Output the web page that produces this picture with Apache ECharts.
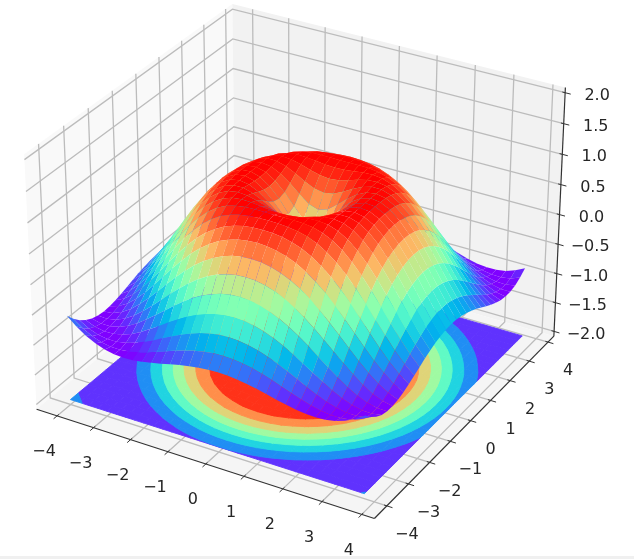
<!DOCTYPE html>
<html>
<head>
<meta charset="utf-8">
<style>html,body{margin:0;padding:0;background:#fff}#c{width:634px;height:559px;filter:blur(0.4px)}</style>
<script src="https://cdn.jsdelivr.net/npm/echarts@6/dist/echarts.min.js"></script>
</head>
<body>
<div id="c"></div>
<script>
// Grid coordinates of the surface
const xValues = [-4,-3.75,-3.5,-3.25,-3,-2.75,-2.5,-2.25,-2,-1.75,-1.5,-1.25,-1,-0.75,-0.5,-0.25,0,0.25,0.5,0.75,1,1.25,1.5,1.75,2,2.25,2.5,2.75,3,3.25,3.5,3.75];
const yValues = xValues.slice();
// Heights: row a, column b (b>=a) with a,b = grid steps from the centre (surface is symmetric)
const heightRows = [
[0,.247,.479,.682,.841,.949,.997,.984,.909,.778,.598,.382,.141,-.108,-.351,-.572,-.757],
[.346,.530,.711,.857,.957,.999,.981,.902,.769,.588,.372,.131,-.118,-.359,-.578,-.762],
[.650,.784,.899,.975,1,.969,.882,.742,.558,.339,.100,-.146,-.384,-.599,-.778],
[.873,.949,.994,.994,.945,.845,.696,.507,.288,.049,-.192,-.423,-.631,-.802],
[.988,.9995,.973,.902,.787,.629,.434,.215,-.021,-.256,-.478,-.675,-.832],
[.981,.928,.836,.705,.537,.339,.121,-.108,-.334,-.544,-.723,-.868],
[.853,.742,.598,.424,.225,.009,-.211,-.423,-.617,-.783,-.906],
[.619,.465,.288,.090,-.118,-.325,-.523,-.696,-.840,-.941],
[.308,.131,-.060,-.256,-.449,-.625,-.778,-.895,-.971],
[-.040,-.220,-.400,-.572,-.723,-.853,-.944,-.993],
[-.384,-.544,-.691,-.818,-.917,-.980,-1],
[-.680,-.802,-.899,-.966,-.998,-.990],
[-.891,-.957,-.995,-.996,-.959],
[-.993,-.998,-.970,-.904],
[-.973,-.914,-.825],
[-.832,-.718],
[-.586]
];
const contourLevels = [-1,-0.75,-0.5,-0.25,0,0.25,0.5,0.75,1];
const contourOffset = -2;
const xTicks = [-4,-3,-2,-1,0,1,2,3,4];
const yTicks = [-4,-3,-2,-1,0,1,2,3,4];
const zTicks = [-2,-1.5,-1,-0.5,0,0.5,1,1.5,2];
const xLim = [-4.5651,4.3151], yLim = [-4.5651,4.3151], zLim = [-2.0833,2.0833];

// View
const BOX = [1.19,1.19,0.903], DIST = 10, ELEV = 30*Math.PI/180, AZIM = -60*Math.PI/180;
const SX = 3253, SY = 3218, CX = 300, CY = 249;
const U = [-Math.sin(AZIM),Math.cos(AZIM),0];
const W = [Math.cos(ELEV)*Math.cos(AZIM),Math.cos(ELEV)*Math.sin(AZIM),Math.sin(ELEV)];
const V = [W[1]*U[2]-W[2]*U[1],W[2]*U[0]-W[0]*U[2],W[0]*U[1]-W[1]*U[0]];
function proj(x,y,z){
  const p=[(x-xLim[0])/(xLim[1]-xLim[0])*BOX[0]-BOX[0]/2,
           (y-yLim[0])/(yLim[1]-yLim[0])*BOX[1]-BOX[1]/2,
           (z-zLim[0])/(zLim[1]-zLim[0])*BOX[2]-BOX[2]/2];
  const dot=a=>a[0]*p[0]+a[1]*p[1]+a[2]*p[2];
  const d=DIST-dot(W);
  return [CX+SX*dot(U)/d, CY-SY*dot(V)/d, d];
}
const P=(x,y,z)=>proj(x,y,z).slice(0,2);
function height(i,j){
  const a=Math.abs(i-16),b=Math.abs(j-16),lo=Math.min(a,b),hi=Math.max(a,b);
  return heightRows[lo][hi-lo];
}
function rainbow(t){
  t=Math.max(0,Math.min(1,t));
  const c=v=>Math.round(Math.max(0,Math.min(1,v))*255);
  return `rgb(${c(Math.abs(2*t-.5))},${c(Math.sin(Math.PI*t))},${c(Math.cos(Math.PI*t/2))})`;
}
// Surface cells sorted far to near
const N=xValues.length;
let cells=[],zmin=Infinity,zmax=-Infinity;
for(let i=0;i<N-1;i++)for(let j=0;j<N-1;j++){
  const q=[[i,j],[i+1,j],[i+1,j+1],[i,j+1]];
  const m=q.reduce((s,c)=>s+height(c[0],c[1]),0)/4;
  const d=q.reduce((s,c)=>s+proj(xValues[c[0]],yValues[c[1]],height(c[0],c[1]))[2],0)/4;
  zmin=Math.min(zmin,m);zmax=Math.max(zmax,m);
  cells.push({i,j,m,d});
}
cells.sort((a,b)=>b.d-a.d);
// Filled contour pieces
function clip(poly,level,above){
  const out=[];
  for(let k=0;k<poly.length;k++){
    const A=poly[k],B=poly[(k+1)%poly.length];
    const ia=above?A[2]>=level:A[2]<=level, ib=above?B[2]>=level:B[2]<=level;
    if(ia)out.push(A);
    if(ia!==ib){const t=(level-A[2])/(B[2]-A[2]);out.push([A[0]+t*(B[0]-A[0]),A[1]+t*(B[1]-A[1]),level]);}
  }
  return out;
}
const pieces=[];
for(let b=0;b<contourLevels.length-1;b++){
  for(let i=0;i<N-1;i++)for(let j=0;j<N-1;j++){
    let poly=[[i,j],[i+1,j],[i+1,j+1],[i,j+1]].map(c=>[xValues[c[0]],yValues[c[1]],height(c[0],c[1])]);
    poly=clip(clip(poly,contourLevels[b],true),contourLevels[b+1],false);
    if(poly.length>2)pieces.push({b,pts:poly.map(p=>P(p[0],p[1],contourOffset))});
  }
}
// Frame
const frame=[];
const [x0,x1]=xLim,[y0,y1]=yLim,[z0,z1]=zLim;
function pane(pts,fill){frame.push({type:'polygon',shape:{points:pts.map(p=>P(...p))},style:{fill}});}
function line(pts,stroke,w){frame.push({type:'polyline',shape:{points:pts.map(p=>P(...p))},style:{fill:'none',stroke,lineWidth:w}});}
function label(p,dx,dy,text){const a=P(...p);frame.push({type:'text',style:{x:a[0]+dx,y:a[1]+dy,text,align:'center',verticalAlign:'middle',fontFamily:'DejaVu Sans',fontSize:16,fill:'#262626'}});}
pane([[x0,y0,z0],[x0,y1,z0],[x0,y1,z1],[x0,y0,z1]],'#f9f9f9');
pane([[x0,y1,z0],[x1,y1,z0],[x1,y1,z1],[x0,y1,z1]],'#f2f2f2');
pane([[x0,y0,z0],[x1,y0,z0],[x1,y1,z0],[x0,y1,z0]],'#f5f5f5');
const GRID='#bcbcbc',GW=1.3,AX='#333333';
const fmtTick=v=>(v<0?'\u2212':'')+Math.abs(v);
const fmtZ=v=>(v<0?'\u2212':'')+Math.abs(v).toFixed(1);
xTicks.forEach(v=>line([[v,y0,z0],[v,y1,z0],[v,y1,z1]],GRID,GW));
yTicks.forEach(v=>line([[x1,v,z0],[x0,v,z0],[x0,v,z1]],GRID,GW));
zTicks.forEach(v=>line([[x0,y0,v],[x0,y1,v],[x1,y1,v]],GRID,GW));
line([[x0,y0,z0],[x1,y0,z0]],AX,1.2);
line([[x1,y0,z0],[x1,y1,z0]],AX,1.2);
line([[x1,y1,z0],[x1,y1,z1]],AX,1.2);
const TO=.142,TI=.071;
xTicks.forEach(v=>{line([[v,y0-TO,z0],[v,y0+TI,z0]],AX,1);label([v,y0,z0],-13,36,fmtTick(v));});
yTicks.forEach(v=>{line([[x1+TO,v,z0],[x1-TI,v,z0]],AX,1);label([x1,v,z0],20,29,fmtTick(v));});
zTicks.forEach(v=>{line([[x1+TO,y1,v],[x1-TI,y1,v]],AX,1);label([x1,y1,v],32,3,fmtZ(v));});

const chart=echarts.init(document.getElementById('c'),null,{renderer:'canvas'});
chart.setOption({
  animation:false,
  backgroundColor:'#ffffff',
  graphic:[{type:'rect',shape:{x:0,y:556,width:634,height:3},style:{fill:'#f0f0f0'},silent:true}],
  series:[
    {type:'custom',coordinateSystem:'none',silent:true,z:1,progressive:0,clip:false,
     data:frame.map((_,k)=>[k]),
     renderItem:(p,api)=>frame[api.value(0)]},
    {type:'custom',coordinateSystem:'none',silent:true,z:2,progressive:0,clip:false,
     data:pieces.map((_,k)=>[k]),
     renderItem:(p,api)=>{
       const c=pieces[api.value(0)];
       const col=rainbow((contourLevels[c.b]+contourLevels[c.b+1]+2)/4);
       return {type:'polygon',shape:{points:c.pts},style:{fill:col,stroke:col,lineWidth:.9}};
     }},
    {type:'custom',coordinateSystem:'none',silent:true,z:3,progressive:0,clip:false,
     data:cells.map((_,k)=>[k]),
     renderItem:(p,api)=>{
       const c=cells[api.value(0)];
       const pts=[[c.i,c.j],[c.i+1,c.j],[c.i+1,c.j+1],[c.i,c.j+1]].map(q=>P(xValues[q[0]],yValues[q[1]],height(q[0],q[1])));
       return {type:'polygon',shape:{points:pts},style:{fill:rainbow((c.m-zmin)/(zmax-zmin))}};
     }}
  ]
});
</script>
</body>
</html>
